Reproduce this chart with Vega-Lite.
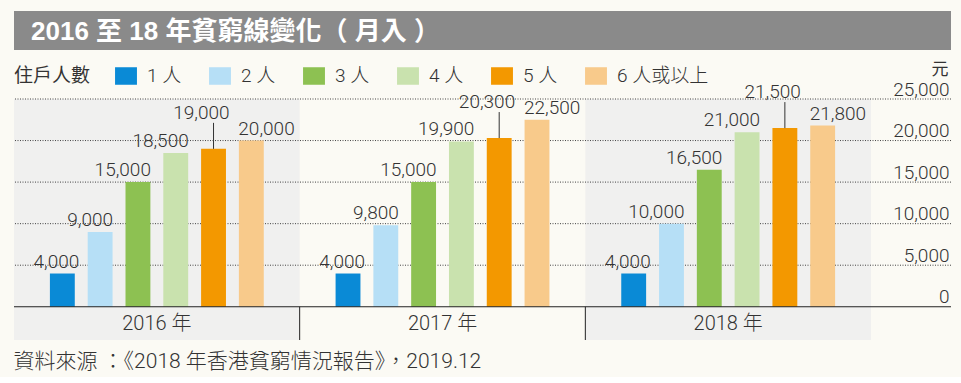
{
  "$schema": "https://vega.github.io/schema/vega-lite/v6.json",
  "background": "#fbfaf4",
  "padding": {"left": 13, "top": 11, "right": 11, "bottom": 5},
  "config": {
    "font": "Roboto, Noto Sans CJK TC",
    "view": {"stroke": null},
    "concat": {"spacing": 10}
  },
  "title": {
    "text": "資料來源 ：《2018 年香港貧窮情況報告》，2019.12",
    "orient": "bottom",
    "anchor": "start",
    "fontSize": 21,
    "fontWeight": 300,
    "color": "#333333",
    "font": "Roboto, Noto Sans CJK TC",
    "offset": 10
  },
  "resolve": {"scale": {"color": "independent"}, "legend": {"color": "independent"}},
  "datasets": {
    "bars": [
      {"year": "2016", "size": "1 人", "value": 4000},
      {"year": "2016", "size": "2 人", "value": 9000},
      {"year": "2016", "size": "3 人", "value": 15000},
      {"year": "2016", "size": "4 人", "value": 18500},
      {"year": "2016", "size": "5 人", "value": 19000},
      {"year": "2016", "size": "6 人或以上", "value": 20000},
      {"year": "2017", "size": "1 人", "value": 4000},
      {"year": "2017", "size": "2 人", "value": 9800},
      {"year": "2017", "size": "3 人", "value": 15000},
      {"year": "2017", "size": "4 人", "value": 19900},
      {"year": "2017", "size": "5 人", "value": 20300},
      {"year": "2017", "size": "6 人或以上", "value": 22500},
      {"year": "2018", "size": "1 人", "value": 4000},
      {"year": "2018", "size": "2 人", "value": 10000},
      {"year": "2018", "size": "3 人", "value": 16500},
      {"year": "2018", "size": "4 人", "value": 21000},
      {"year": "2018", "size": "5 人", "value": 21500},
      {"year": "2018", "size": "6 人或以上", "value": 21800}
    ],
    "years": [
      {"year": "2016", "label": "2016 年"},
      {"year": "2017", "label": "2017 年"},
      {"year": "2018", "label": "2018 年"}
    ],
    "grid": [{"v": 5000}, {"v": 10000}, {"v": 15000}, {"v": 20000}, {"v": 25000}],
    "heading": [{"t": "2016 至 18 年貧窮線變化（ 月入 ）"}]
  },
  "vconcat": [
    {
      "width": 937,
      "height": 39,
      "data": {"name": "heading"},
      "layer": [
        {
          "mark": {"type": "rect", "color": "#8a8a8a"},
          "encoding": {}
        },
        {
          "mark": {"type": "text", "align": "left", "baseline": "middle", "dx": 17, "dy": 1, "fontSize": 26, "fontWeight": "bold", "color": "#ffffff", "font": "Liberation Sans, Noto Sans CJK TC"},
          "encoding": {
            "x": {"datum": 0, "type": "quantitative", "scale": {"domain": [0, 1], "nice": false}, "axis": null},
            "text": {"field": "t"}
          }
        }
      ]
    },
    {
      "width": 937,
      "height": 241,
      "layer": [
        {
          "data": {"name": "years"},
          "transform": [{"filter": "datum.year != '2017'"}],
          "mark": {"type": "rect", "color": "#f0f0ef"},
          "encoding": {
            "x": {
              "field": "year", "type": "nominal", "axis": null,
              "scale": {"type": "band", "domain": ["2016", "2017", "2018"], "paddingInner": 0, "paddingOuter": 0.14, "align": 0}
            },
            "y": {"datum": -4000, "type": "quantitative",
              "scale": {"domain": [-4000, 25000], "nice": false, "zero": false},
              "axis": {
                "orient": "right", "values": [0, 5000, 10000, 15000, 20000, 25000],
                "labelExpr": "format(datum.value, ',')",
                "grid": false, "domain": false, "ticks": false,
                "labelAlign": "right", "labelPadding": -2, "labelBaseline": "alphabetic", "labelOffset": -4,
                "labelFontSize": 19, "labelFontWeight": 300, "labelColor": "#333333", "labelFlush": false, "labelOverlap": false,
                "title": "元", "titleAngle": 0, "titleAlign": "right", "titleBaseline": "alphabetic",
                "titleX": -3, "titleY": -25, "titleFontSize": 17, "titleFontWeight": "normal", "titleColor": "#333333"
              }},
            "y2": {"datum": 25000}
          }
        },
        {
          "data": {"name": "grid"},
          "mark": {"type": "rule", "color": "#444444", "strokeDash": [1, 1.5], "strokeWidth": 1},
          "encoding": {"y": {"field": "v", "type": "quantitative"}}
        },
        {
          "data": {"name": "bars"},
          "mark": {"type": "bar"},
          "encoding": {
            "x": {"field": "year", "type": "nominal", "axis": null},
            "xOffset": {"field": "size", "type": "nominal",
              "scale": {"domain": ["1 人", "2 人", "3 人", "4 人", "5 人", "6 人或以上"], "paddingInner": 0.342, "paddingOuter": 0.95}},
            "y": {"field": "value", "type": "quantitative"},
            "color": {"field": "size", "type": "nominal",
              "scale": {"domain": ["1 人", "2 人", "3 人", "4 人", "5 人", "6 人或以上"],
                "range": ["#0a8ad6", "#b6dff6", "#8dc152", "#c9e2ae", "#f39800", "#f8ca8b"]},
              "legend": {
                "title": "住戶人數", "orient": "none", "legendX": 0, "legendY": -34, "direction": "horizontal", "columns": 6,
                "titleOrient": "left", "titleFontSize": 19, "titleFontWeight": "normal", "titleColor": "#333333", "titlePadding": 24,
                "labelFontSize": 19, "labelFontWeight": 300, "labelColor": "#333333", "labelOffset": 10,
                "symbolType": "M-1,-0.8H1V0.8H-1Z", "symbolSize": 480, "symbolStrokeWidth": 0, "symbolOpacity": 1,
                "columnPadding": 27, "padding": 0
              }}
          }
        },
        {
          "data": {"values": [{}]},
          "mark": {"type": "rule", "color": "#222222", "strokeWidth": 1},
          "encoding": {"y": {"datum": 0, "type": "quantitative"}}
        },
        {
          "data": {"name": "years"},
          "transform": [{"filter": "datum.year != '2016'"}],
          "mark": {"type": "rule", "color": "#222222", "strokeWidth": 1},
          "encoding": {
            "x": {"field": "year", "type": "nominal", "axis": null, "bandPosition": 0},
            "y": {"datum": -4000, "type": "quantitative"},
            "y2": {"datum": 0}
          }
        },
        {
          "data": {"name": "years"},
          "mark": {"type": "text", "fontSize": 20, "fontWeight": 300, "color": "#333333", "baseline": "middle", "dy": 1},
          "encoding": {
            "x": {"field": "year", "type": "nominal", "axis": null},
            "y": {"datum": -2000, "type": "quantitative"},
            "text": {"field": "label"}
          }
        },
        {
          "data": {"name": "bars"},
          "transform": [{"filter": "datum.size == '5 人'"}],
          "mark": {"type": "rule", "color": "#333333", "strokeWidth": 1, "y2Offset": -26},
          "encoding": {
            "x": {"field": "year", "type": "nominal", "axis": null},
            "xOffset": {"field": "size", "type": "nominal"},
            "y": {"field": "value", "type": "quantitative"},
            "y2": {"field": "value"}
          }
        },
        {
          "data": {"name": "bars"},
          "transform": [{"filter": "datum.size == '1 人'"}],
          "mark": {"type": "text", "fontSize": 19, "fontWeight": 300, "color": "#333333", "align": "right", "baseline": "alphabetic", "dx": 17, "dy": -6},
          "encoding": {
            "x": {"field": "year", "type": "nominal", "axis": null},
            "xOffset": {"field": "size", "type": "nominal"},
            "y": {"field": "value", "type": "quantitative"},
            "text": {"field": "value", "type": "quantitative", "format": ","}
          }
        },
        {
          "data": {"name": "bars"},
          "transform": [{"filter": "indexof(['2 人', '3 人', '4 人'], datum.size) >= 0"}],
          "mark": {"type": "text", "fontSize": 19, "fontWeight": 300, "color": "#333333", "align": "right", "baseline": "alphabetic", "dx": 13, "dy": -6},
          "encoding": {
            "x": {"field": "year", "type": "nominal", "axis": null},
            "xOffset": {"field": "size", "type": "nominal"},
            "y": {"field": "value", "type": "quantitative"},
            "text": {"field": "value", "type": "quantitative", "format": ","}
          }
        },
        {
          "data": {"name": "bars"},
          "transform": [{"filter": "datum.size == '5 人'"}],
          "mark": {"type": "text", "fontSize": 19, "fontWeight": 300, "color": "#333333", "align": "right", "baseline": "alphabetic", "dx": 16, "dy": -30},
          "encoding": {
            "x": {"field": "year", "type": "nominal", "axis": null},
            "xOffset": {"field": "size", "type": "nominal"},
            "y": {"field": "value", "type": "quantitative"},
            "text": {"field": "value", "type": "quantitative", "format": ","}
          }
        },
        {
          "data": {"name": "bars"},
          "transform": [{"filter": "datum.size == '6 人或以上'"}],
          "mark": {"type": "text", "fontSize": 19, "fontWeight": 300, "color": "#333333", "align": "left", "baseline": "alphabetic", "dx": -13, "dy": -6},
          "encoding": {
            "x": {"field": "year", "type": "nominal", "axis": null},
            "xOffset": {"field": "size", "type": "nominal"},
            "y": {"field": "value", "type": "quantitative"},
            "text": {"field": "value", "type": "quantitative", "format": ","}
          }
        }
      ]
    }
  ]
}
